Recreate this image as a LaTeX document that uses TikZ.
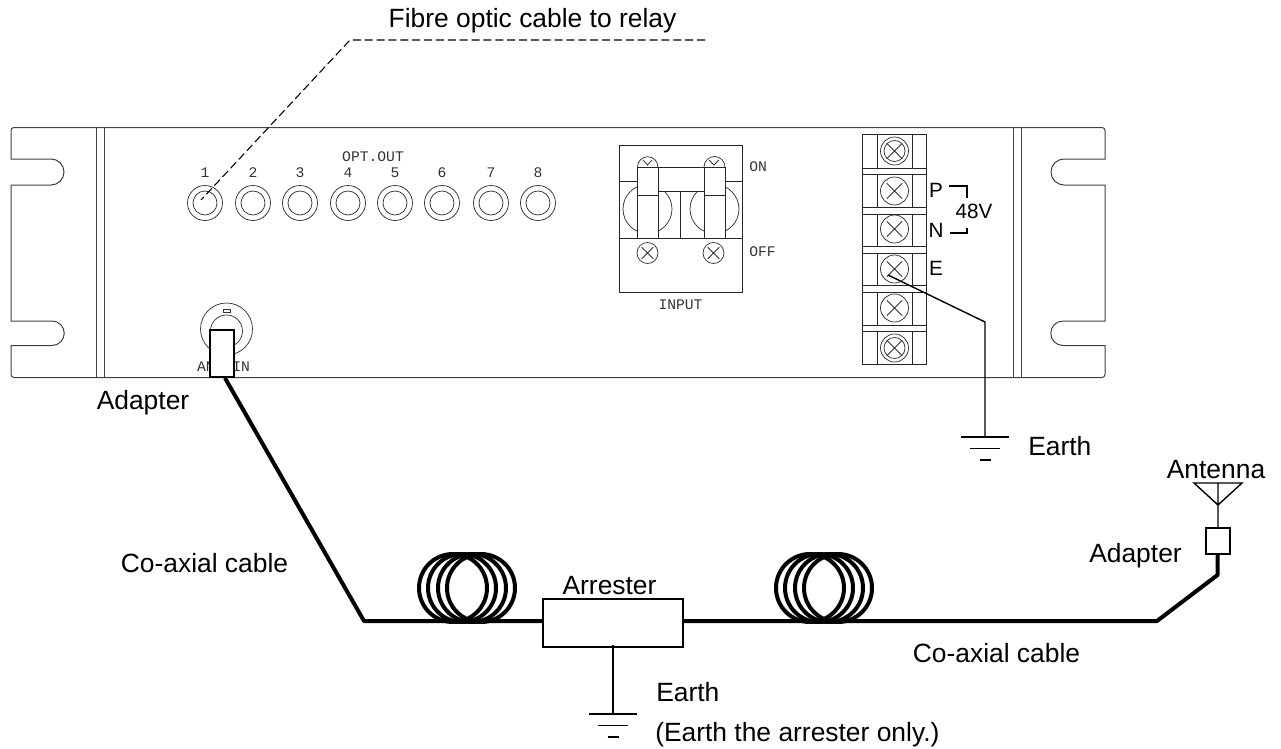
\documentclass[tikz,border=0pt]{standalone}
\usepackage{fontspec}
\setmainfont{Liberation Sans}
\newfontfamily\cadfont{Liberation Mono}
\tikzset{
 x=0.75pt,y=-0.75pt,
 panelline/.style={draw=black!75,line width=0.75pt},
 thinline/.style={draw=black!80,line width=0.55pt},
 wire/.style={draw=black,line width=1.05pt},
 cable/.style={draw=black,line width=3pt,line join=bevel},
 coilring/.style={draw=black,line width=3pt},
 boxline/.style={draw=black,line width=0.95pt,fill=white},
 lbl/.style={font=\fontsize{19.8}{22}\selectfont,inner sep=0pt,text=black,anchor=base},
 lblsm/.style={font=\fontsize{15.5}{18}\selectfont,inner sep=0pt,text=black,anchor=base},
 cad/.style={font=\cadfont\fontsize{11}{12}\selectfont,inner sep=0pt,text=black!80},
 leader/.style={draw=black,line width=0.8pt,dash pattern=on 6pt off 2.9pt},
}
\newcommand{\xscrew}[3]{%
 \path[thinline,fill=white] (#1,#2) circle (#3);
 \draw[thinline] (#1-0.55*#3,#2-0.55*#3) -- (#1+0.55*#3,#2+0.55*#3) (#1-0.55*#3,#2+0.55*#3) -- (#1+0.55*#3,#2-0.55*#3);}
\newcommand{\gndsym}[2]{%
 \draw[wire] (#1-24,#2) -- (#1+24,#2) (#1-15,#2+11.5) -- (#1+15,#2+11.5) (#1-5.5,#2+23) -- (#1+5.5,#2+23);}
\begin{document}
\begin{tikzpicture}
\useasboundingbox (0,0) rectangle (1281,749);
% panel outline (y axis points down: the top of a circle is at angle 270)
\draw[panelline] (14,127.5) -- (1102,127.5) arc[start angle=270,end angle=360,radius=3] -- (1105,159)
  -- (1064,159) arc[start angle=270,end angle=90,radius=13] -- (1105,185) -- (1105,321)
  -- (1063,321) arc[start angle=270,end angle=90,radius=12.25] -- (1105,345.5) -- (1105,374.5)
  arc[start angle=0,end angle=90,radius=3] -- (14,377.5) arc[start angle=90,end angle=180,radius=3]
  -- (11,345.5) -- (52,345.5) arc[start angle=90,end angle=-90,radius=12.25] -- (11,321) -- (11,185)
  -- (51,185) arc[start angle=90,end angle=-90,radius=13] -- (11,159) -- (11,130.5)
  arc[start angle=180,end angle=270,radius=3] -- cycle;
\draw[panelline] (96,127.5) -- (96,377.5) (104,127.5) -- (104,377.5)
  (1013,127.5) -- (1013,377.5) (1021,127.5) -- (1021,377.5);
% optical outputs
\foreach \cx/\t in {205/1,253/2,300/3,348/4,395/5,442/6,491/7,538/8}{
  \draw[thinline] (\cx,203) circle (17.5) (\cx,203) circle (12);
  \node[cad] (opt\t) at (\cx,173) {\t};
}
\node[cad] (optout) at (373,157) {OPT.OUT};
% antenna input
\draw[thinline] (226.5,329) circle (26) (226.5,331) circle (16);
\draw[thinline] (223,309) rectangle (230,312);
\node[cad] (antin) at (223.5,367) {ANT.IN};
% breaker
\draw[draw=black!85,line width=0.7pt] (619,145) rectangle (742,292);
\draw[thinline] (647.5,209) circle (24.5) (714.5,209) circle (24.5);
\draw[thinline] (637.5,167) arc[start angle=180,end angle=360,radius=10.25] (704,167) arc[start angle=180,end angle=360,radius=10.5];
\draw[thinline] (643,160) -- (647.5,165) -- (652,160) (709,160) -- (714,165) -- (719,160);
\path[fill=white] (637.5,167) rectangle (658,238) (704,167) rectangle (725,238) (658,167) rectangle (704,191.5);
\draw[draw=black!85,line width=0.7pt]
  (619,181) -- (637.5,181) (725,181) -- (742,181)
  (637.5,238) -- (637.5,167) -- (725,167) -- (725,238)
  (658,238) -- (658,167) (704,238) -- (704,167)
  (637.5,195) -- (658,195) (704,195) -- (725,195)
  (658,191.5) -- (704,191.5) (680.7,191.5) -- (680.7,238)
  (619,238) -- (742,238);
\xscrew{647.5}{253}{10.5}
\xscrew{713.5}{253}{10.5}
\node[cad,anchor=west] (on) at (749,167) {ON};
\node[cad,anchor=west] (off) at (749,252) {OFF};
\node[cad] (input) at (680.5,305) {INPUT};
% terminal block
\draw[draw=black!85,line width=0.7pt] (862,134) rectangle (926,364) (877,134) -- (877,364) (912,134) -- (912,364);
\foreach \ya/\yb in {168/174,207/214,246/253,285/292,325/331}{
  \path[draw=black!85,line width=0.7pt,fill=white] (862,\ya) rectangle (926,\yb);
}
\foreach \yy in {151,191,229,269,308,348}{\xscrew{894.5}{\yy}{14}}
\draw[thinline] (894.5,151) circle (10.5) (894.5,348) circle (10.5);
\node[lblsm] (lp) at (936,197) {P};
\node[lblsm] (ln) at (936,237) {N};
\node[lblsm] (le) at (936,275) {E};
\node[lblsm] (v48) at (974,218) {48V};
\coordinate (pa) at (949,186); \coordinate (pb) at (967,186); \coordinate (pc) at (967,198);
\coordinate (na) at (950,233); \coordinate (nb) at (967,233); \coordinate (nc) at (967,228);
\draw[wire] (pa) -- (pb) -- (pc) (na) -- (nb) -- (nc);
% earth of panel
\coordinate (e1) at (888,275); \coordinate (e2) at (985,322); \coordinate (e3) at (985,437);
\draw[wire] (e1) -- (e2) -- (e3);
\gndsym{985}{437}
\node[lbl,anchor=base west] (earth1) at (1028,455) {Earth};
% fibre leader
\node[lbl] (fibre) at (532.5,28) {Fibre optic cable to relay};
\coordinate (f1) at (705,40); \coordinate (f2) at (350,40); \coordinate (f3) at (201,200);
\draw[leader] (f1) -- (f2) -- (f3);
% cable
\coordinate (c1) at (225,378); \coordinate (c2) at (364,621); \coordinate (c3) at (543,621);
\coordinate (c4) at (683,621); \coordinate (c5) at (1157,621); \coordinate (c6) at (1217.5,575); \coordinate (c7) at (1217.5,554);
\draw[cable] (c1) -- (c2) -- (c3) (c4) -- (c5) -- (c6) -- (c7);
\foreach \cx in {453,462,472,481,810,819,829,838}{
  \draw[coilring] (\cx,588) circle (34);
}
\draw[boxline] (210,330) rectangle (234,377);
\node[lbl] (ad1) at (143,409) {Adapter};
\node[lbl] (cx1) at (204.5,572) {Co-axial cable};
\node[lbl] (cx2) at (996.5,662) {Co-axial cable};
% arrester
\node[lbl] (arrlbl) at (609.5,594) {Arrester};
\draw[boxline] (543,599) rectangle (683,647);
\coordinate (a1) at (613,645); \coordinate (a2) at (613,714);
\draw[wire] (a1) -- (a2);
\gndsym{613}{714}
\node[lbl,anchor=base west] (earth2) at (656,701) {Earth};
\node[lbl,anchor=base west] (earthnote) at (655,741) {(Earth the arrester only.)};
% antenna
\draw[boxline] (1206,528) rectangle (1230,554);
\coordinate (t1) at (1194,483); \coordinate (t2) at (1242,483); \coordinate (t3) at (1218,505); \coordinate (t4) at (1218,528);
\draw[wire] (t1) -- (t2) -- (t3) -- cycle (1218,483) -- (t3) -- (t4);
\node[lbl] (ant) at (1216,478) {Antenna};
\node[lbl,anchor=base east] (ad2) at (1182,562) {Adapter};
\end{tikzpicture}
\end{document}
